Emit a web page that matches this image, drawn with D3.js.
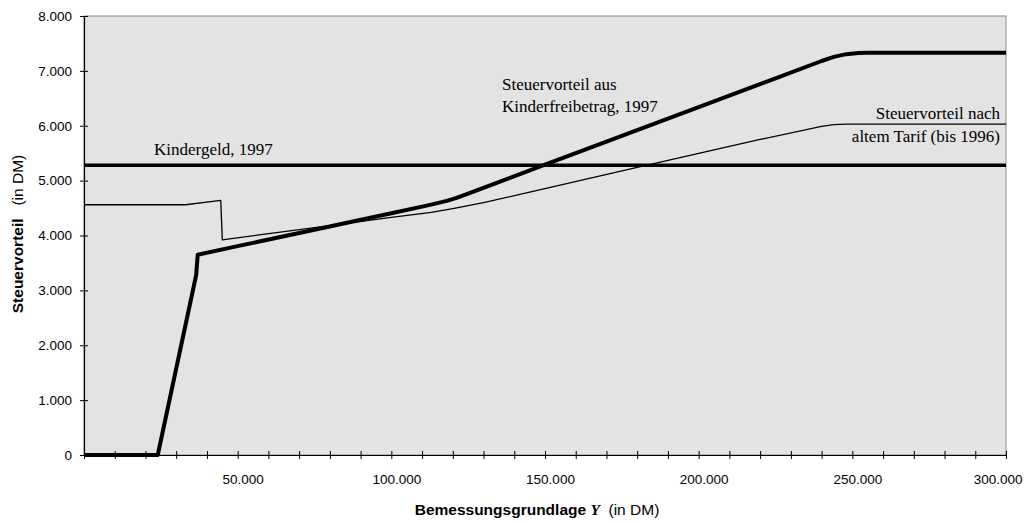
<!DOCTYPE html>
<html>
<head>
<meta charset="utf-8">
<script src="https://cdn.jsdelivr.net/npm/d3@7"></script>
<style>
  body { margin: 0; background: #fff; }
  svg { display: block; }
</style>
</head>
<body>
<svg id="chart" width="1026" height="523"></svg>
<script>
// ---- data ----
const xTicks = [0,10000,20000,30000,40000,50000,60000,70000,80000,90000,100000,110000,120000,130000,140000,150000,160000,170000,180000,190000,200000,210000,220000,230000,240000,250000,260000,270000,280000,290000,300000];
const xLabelValues = [50000,100000,150000,200000,250000,300000];
const yTicks = [0,1000,2000,3000,4000,5000,6000,7000,8000];

// Steuervorteil aus Kinderfreibetrag, 1997 (thick)
const freibetragY = [0, 24000, 36500, 37000, 50000, 75000, 100000, 111500, 115000, 118000, 121000, 125000, 150000, 175000, 200000, 225000, 240000, 244000, 248000, 252000, 255000, 300000];
const freibetragV = [0, 0, 3280, 3650, 3806, 4106, 4406, 4544, 4590, 4630, 4680, 4765, 5290, 5815, 6340, 6865, 7180, 7255, 7305, 7325, 7330, 7330];

// Steuervorteil nach altem Tarif (bis 1996) (thin)
const altY = [0, 33000, 44500, 45000, 57000, 80000, 100000, 113000, 120000, 130000, 145000, 180000, 220000, 240000, 244000, 248000, 300000];
const altV = [4560, 4560, 4640, 3920, 4010, 4180, 4330, 4420, 4490, 4600, 4790, 5240, 5750, 5990, 6020, 6030, 6030];

// Kindergeld, 1997
const kindergeldY = [0, 300000];
const kindergeldV = [5280, 5280];

// ---- layout ----
const svg = d3.select("#chart");
const mLeft = 84, mRight = 1006, mTop = 16, mBottom = 455;

const x = d3.scaleLinear().domain([0, 300000]).range([mLeft, mRight]);
const y = d3.scaleLinear().domain([0, 8000]).range([mBottom, mTop]);

const de = d3.formatLocale({decimal: ",", thousands: ".", grouping: [3], currency: ["", " DM"]});
const fmt = de.format(",.0f");

// plot background
svg.append("rect")
  .attr("x", mLeft).attr("y", mTop)
  .attr("width", mRight - mLeft).attr("height", mBottom - mTop)
  .attr("fill", "#e3e3e3")
  .attr("stroke", "#8a8a8a").attr("stroke-width", 1);

// lines
const line = d3.line().x(d => x(d[0])).y(d => y(d[1]));
const zip = (a, b) => a.map((v, i) => [v, b[i]]);

const g = svg.append("g");
g.append("path").datum(zip(kindergeldY, kindergeldV))
  .attr("d", line).attr("fill", "none").attr("stroke", "#000").attr("stroke-width", 3.5);
g.append("path").datum(zip(altY, altV))
  .attr("d", line).attr("fill", "none").attr("stroke", "#000").attr("stroke-width", 1.3)
  .attr("stroke-linejoin", "round");
g.append("path").datum(zip(freibetragY, freibetragV))
  .attr("d", line).attr("fill", "none").attr("stroke", "#000").attr("stroke-width", 4)
  .attr("stroke-linejoin", "round");

// axes
const xAxis = d3.axisBottom(x)
  .tickValues(xTicks)
  .tickSizeInner(4).tickSizeOuter(0)
  .tickFormat(d => xLabelValues.includes(d) ? fmt(d) : "");
const xg = svg.append("g").attr("transform", `translate(0,${mBottom})`).call(xAxis);
xg.select(".domain").attr("stroke", "#000").attr("stroke-width", 1.2);
xg.selectAll(".tick line").attr("stroke", "#000").attr("y1", -4).attr("y2", 4);
xg.selectAll(".tick text")
  .attr("font-family", "Liberation Sans, Arial, sans-serif")
  .attr("font-size", "13.5px").attr("fill", "#000")
  .attr("y", 19).attr("dx", 5);
xg.selectAll(".tick").filter(d => d === 300000).select("text")
  .attr("text-anchor", "end").attr("dx", 16);

const yAxis = d3.axisLeft(y)
  .tickValues(yTicks)
  .tickSizeInner(4).tickSizeOuter(0)
  .tickFormat(d => fmt(d));
const yg = svg.append("g").attr("transform", `translate(${mLeft},0)`).call(yAxis);
yg.select(".domain").attr("stroke", "#000").attr("stroke-width", 1.2);
yg.selectAll(".tick line").attr("stroke", "#000").attr("x1", -4).attr("x2", 4);
yg.selectAll(".tick text")
  .attr("font-family", "Liberation Sans, Arial, sans-serif")
  .attr("font-size", "13.5px").attr("fill", "#000")
  .attr("x", -12);

// annotations (serif)
const serif = "Liberation Serif, Times New Roman, serif";
function note(tx, ty, str, anchor) {
  svg.append("text").attr("x", tx).attr("y", ty)
    .attr("font-family", serif).attr("font-size", "17px").attr("fill", "#000")
    .attr("text-anchor", anchor || "start").text(str);
}
note(154, 155, "Kindergeld, 1997");
note(502, 90, "Steuervorteil aus");
note(502, 112, "Kinderfreibetrag, 1997");
note(1000, 119, "Steuervorteil nach", "end");
note(1000, 142, "altem Tarif (bis 1996)", "end");

// axis titles
const xt = svg.append("text").attr("x", 537).attr("y", 515)
  .attr("text-anchor", "middle")
  .attr("font-family", "Liberation Sans, Arial, sans-serif").attr("font-size", "15.5px").attr("fill", "#000");
xt.append("tspan").attr("font-weight", "bold").text("Bemessungsgrundlage ");
xt.append("tspan").attr("font-family", serif).attr("font-style", "italic").attr("font-weight", "bold").text("Y");
xt.append("tspan").text("\u00a0 (in DM)");

const yt = svg.append("text")
  .attr("transform", "translate(23,234) rotate(-90)")
  .attr("text-anchor", "middle")
  .attr("font-family", "Liberation Sans, Arial, sans-serif").attr("font-size", "15.5px").attr("fill", "#000");
yt.append("tspan").attr("font-weight", "bold").text("Steuervorteil");
yt.append("tspan").text("\u00a0\u00a0 (in DM)");
</script>
</body>
</html>
